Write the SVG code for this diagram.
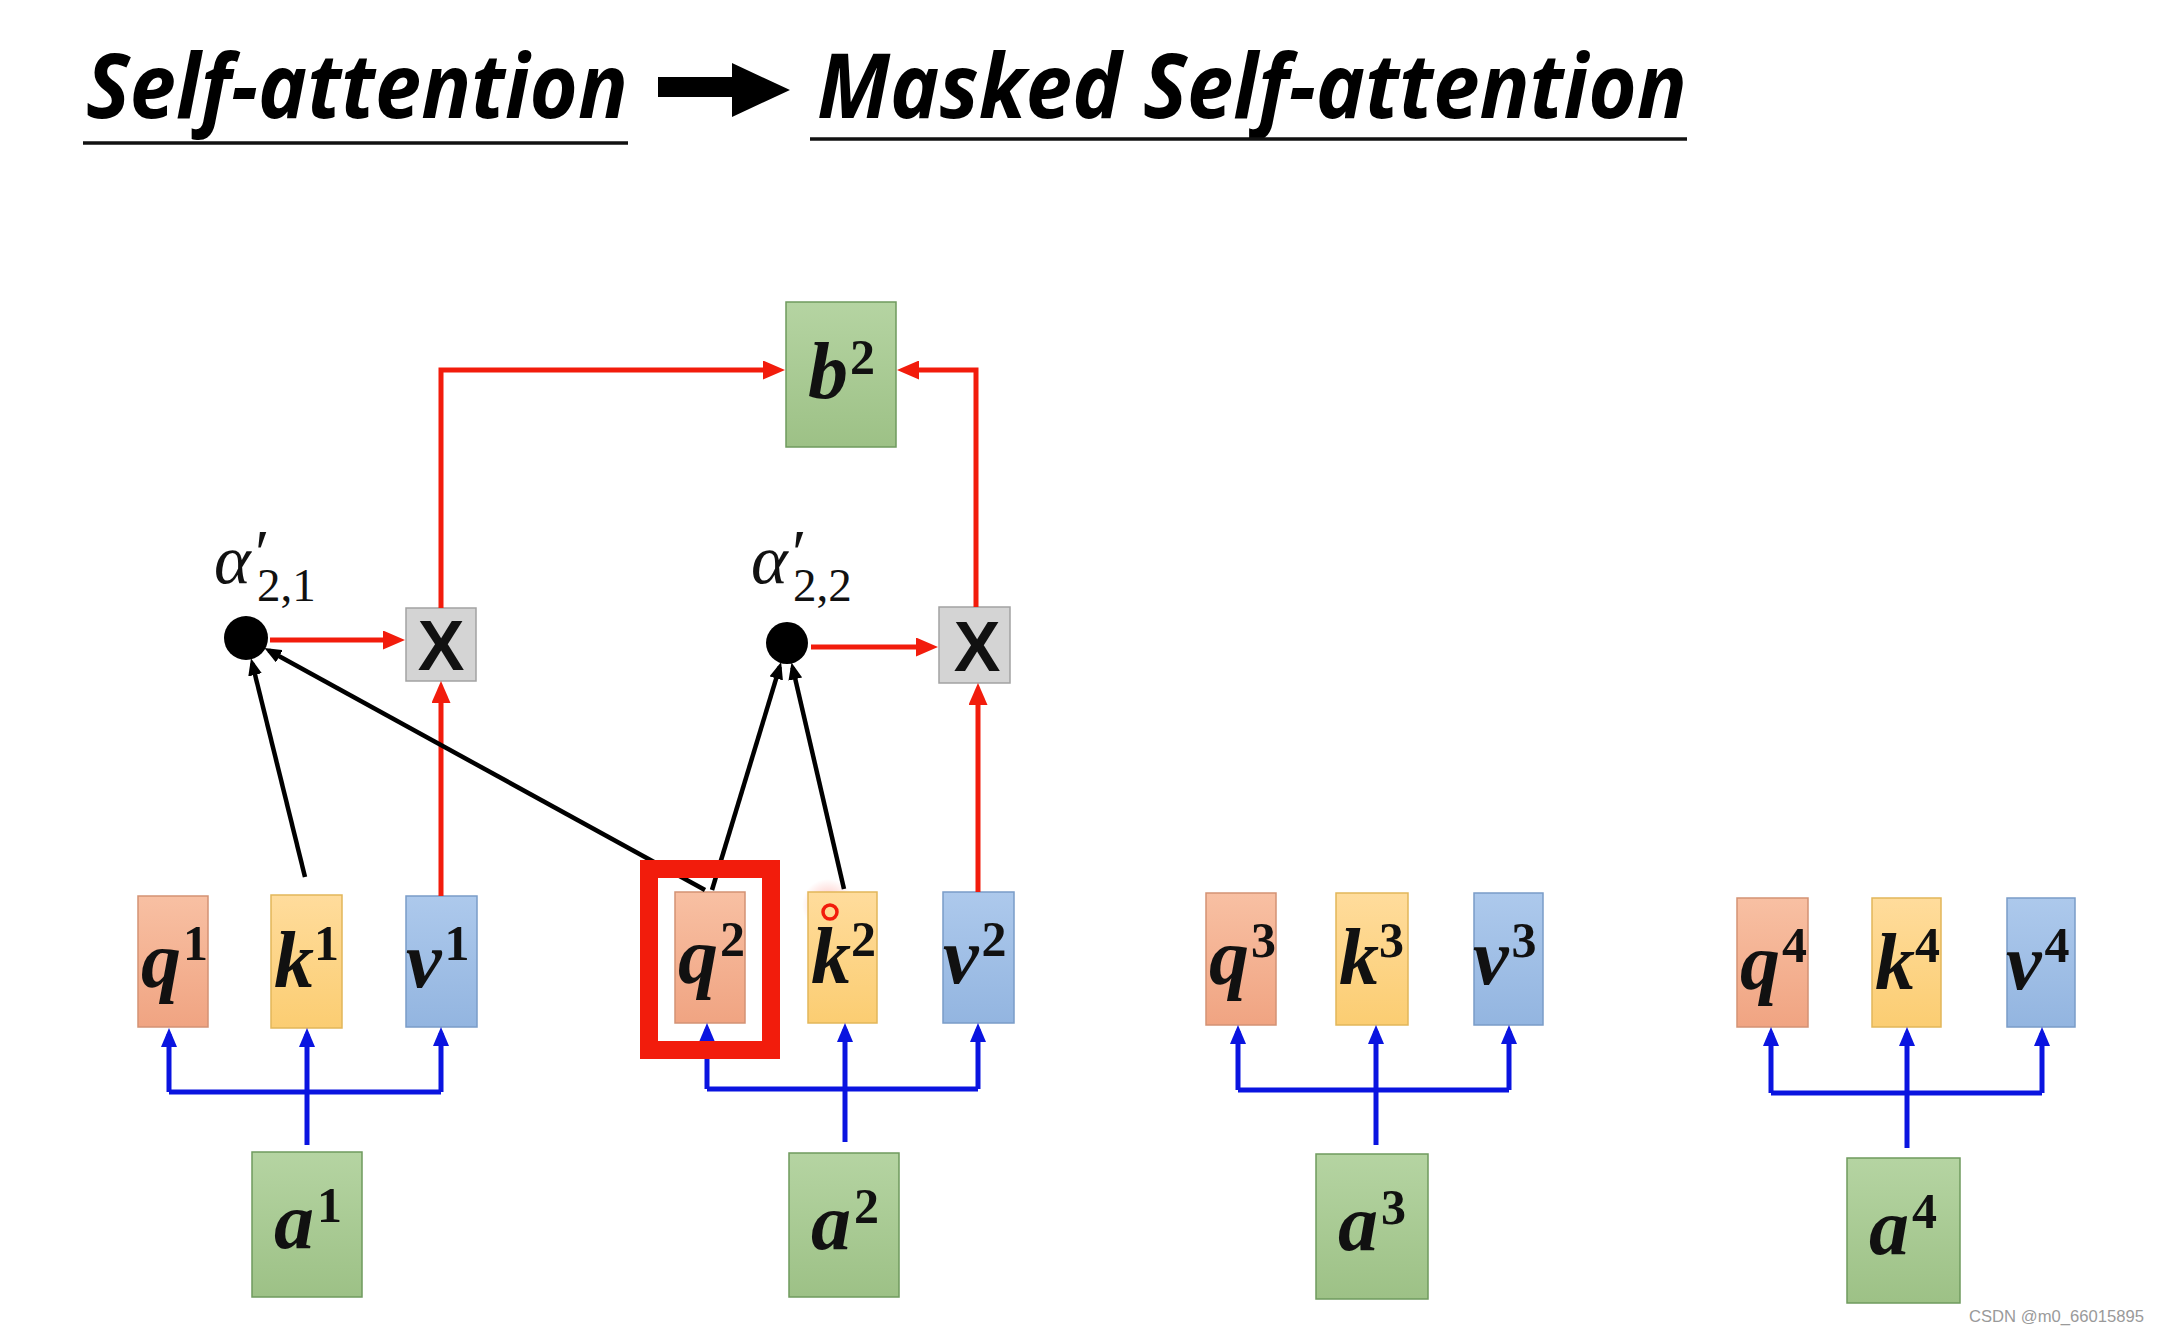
<svg xmlns="http://www.w3.org/2000/svg" width="2160" height="1335" viewBox="0 0 2160 1335">
<defs>
<linearGradient id="gq" x1="0" y1="0" x2="0" y2="1"><stop offset="0" stop-color="#f8c0a3"/><stop offset="1" stop-color="#f0a482"/></linearGradient>
<linearGradient id="gk" x1="0" y1="0" x2="0" y2="1"><stop offset="0" stop-color="#ffdc9c"/><stop offset="1" stop-color="#fbcd72"/></linearGradient>
<linearGradient id="gv" x1="0" y1="0" x2="0" y2="1"><stop offset="0" stop-color="#adc9ec"/><stop offset="1" stop-color="#93b5e0"/></linearGradient>
<linearGradient id="gg" x1="0" y1="0" x2="0" y2="1"><stop offset="0" stop-color="#b5d4a2"/><stop offset="1" stop-color="#9dc186"/></linearGradient>
<radialGradient id="glow"><stop offset="0" stop-color="#ff3b2a" stop-opacity="0.35"/><stop offset="1" stop-color="#ff3b2a" stop-opacity="0"/></radialGradient>
<marker id="ar" markerUnits="userSpaceOnUse" markerWidth="22" markerHeight="19" refX="15" refY="9.5" orient="auto"><path d="M0,0 L22,9.5 L0,19 z" fill="#f21c0c"/></marker>
<marker id="ab" markerUnits="userSpaceOnUse" markerWidth="19" markerHeight="16" refX="13" refY="8" orient="auto"><path d="M0,0 L19,8 L0,16 z" fill="#0a14e0"/></marker>
<marker id="ak" markerUnits="userSpaceOnUse" markerWidth="17" markerHeight="14" refX="12" refY="7" orient="auto"><path d="M0,0 L17,7 L0,14 z" fill="#000"/></marker>
</defs>
<style>
.title{font-family:"Open Sans","Liberation Sans",sans-serif;font-weight:bold;font-style:italic;font-size:90px;fill:#000}
.q{fill:url(#gq);stroke:#d39274;stroke-width:1.5}
.k{fill:url(#gk);stroke:#e2b65a;stroke-width:1.5}
.v{fill:url(#gv);stroke:#7a9cc8;stroke-width:1.5}
.g{fill:url(#gg);stroke:#6f9a5e;stroke-width:1.5}
.x{fill:#d4d4d4;stroke:#a2a2a2;stroke-width:1.5}
.lbl{font-family:"Liberation Serif","Times New Roman",serif;fill:#111}
.var{font-weight:bold;font-style:italic;font-size:80px}
.sup{font-weight:bold;font-size:50px}
.xs{font-family:"Liberation Sans",Arial,sans-serif;font-weight:bold;font-size:70px;fill:#111}
.al{font-family:"Liberation Serif","Times New Roman",serif;fill:#111}
.red{stroke:#f21c0c;stroke-width:5;fill:none}
.blue{stroke:#0a14e0;stroke-width:5;fill:none}
.blk{stroke:#000;stroke-width:4.5;fill:none}
</style>
<rect width="2160" height="1335" fill="#fff"/>

<g id="title">
<text class="title" x="86" y="118" textLength="542" lengthAdjust="spacingAndGlyphs">Self-attention</text>
<line x1="83" y1="143" x2="628" y2="143" stroke="#111" stroke-width="3.5"/>
<polygon points="658,77 732,77 732,63 790,90 732,117 732,97 658,97" fill="#000"/>
<text class="title" x="817" y="118" textLength="870" lengthAdjust="spacingAndGlyphs">Masked Self-attention</text>
<line x1="810" y1="139" x2="1687" y2="139" stroke="#111" stroke-width="3.5"/>
</g>

<g id="b2"><rect class="g" x="786" y="302" width="110" height="145"/><text class="lbl" x="808" y="398"><tspan class="var">b</tspan><tspan class="sup" dx="2" dy="-24">2</tspan></text></g>

<g id="mul1"><rect class="x" x="406" y="608" width="70" height="73"/><text class="xs" x="441" y="670" text-anchor="middle">X</text></g>
<g id="mul2"><rect class="x" x="939" y="607" width="71" height="76"/><text class="xs" x="977" y="671" text-anchor="middle">X</text></g>

<g id="alpha21"><circle cx="246" cy="638" r="22" fill="#000"/><text class="al"><tspan x="214" y="583" font-style="italic" font-size="70">α</tspan><tspan x="251" y="575" font-size="66" font-style="italic">′</tspan><tspan x="257" y="601" font-size="47">2,1</tspan></text></g>
<g id="alpha22"><circle cx="787" cy="643" r="21" fill="#000"/><text class="al"><tspan x="751" y="583" font-style="italic" font-size="70">α</tspan><tspan x="788" y="575" font-size="66" font-style="italic">′</tspan><tspan x="793" y="601" font-size="47">2,2</tspan></text></g>

<g id="q1"><rect class="q" x="138" y="896" width="70" height="131"/><text class="lbl" x="141" y="987"><tspan class="var">q</tspan><tspan class="sup" dx="2" dy="-27">1</tspan></text></g>
<g id="k1"><rect class="k" x="271" y="895" width="71" height="133"/><text class="lbl" x="274" y="987"><tspan class="var">k</tspan><tspan class="sup" dx="0" dy="-27">1</tspan></text></g>
<g id="v1"><rect class="v" x="406" y="896" width="71" height="131"/><text class="lbl" x="406" y="987"><tspan class="var">v</tspan><tspan class="sup" dx="3" dy="-27">1</tspan></text></g>

<g id="q2"><rect class="q" x="675" y="892" width="70" height="131"/><text class="lbl" x="678" y="983"><tspan class="var">q</tspan><tspan class="sup" dx="2" dy="-27">2</tspan></text></g>
<g id="k2"><circle cx="828" cy="905" r="26" fill="url(#glow)"/><rect class="k" x="808" y="892" width="69" height="131"/><circle cx="830" cy="912" r="7" fill="none" stroke="#f21c0c" stroke-width="3.5"/><text class="lbl" x="811" y="983"><tspan class="var">k</tspan><tspan class="sup" dx="0" dy="-27">2</tspan></text></g>
<g id="v2"><rect class="v" x="943" y="892" width="71" height="131"/><text class="lbl" x="943" y="983"><tspan class="var">v</tspan><tspan class="sup" dx="3" dy="-27">2</tspan></text></g>

<g id="q3"><rect class="q" x="1206" y="893" width="70" height="132"/><text class="lbl" x="1209" y="984"><tspan class="var">q</tspan><tspan class="sup" dx="2" dy="-27">3</tspan></text></g>
<g id="k3"><rect class="k" x="1336" y="893" width="72" height="132"/><text class="lbl" x="1339" y="984"><tspan class="var">k</tspan><tspan class="sup" dx="0" dy="-27">3</tspan></text></g>
<g id="v3"><rect class="v" x="1474" y="893" width="69" height="132"/><text class="lbl" x="1473" y="984"><tspan class="var">v</tspan><tspan class="sup" dx="3" dy="-27">3</tspan></text></g>

<g id="q4"><rect class="q" x="1737" y="898" width="71" height="129"/><text class="lbl" x="1740" y="989"><tspan class="var">q</tspan><tspan class="sup" dx="2" dy="-27">4</tspan></text></g>
<g id="k4"><rect class="k" x="1872" y="898" width="69" height="129"/><text class="lbl" x="1875" y="989"><tspan class="var">k</tspan><tspan class="sup" dx="0" dy="-27">4</tspan></text></g>
<g id="v4"><rect class="v" x="2007" y="898" width="68" height="129"/><text class="lbl" x="2006" y="989"><tspan class="var">v</tspan><tspan class="sup" dx="3" dy="-27">4</tspan></text></g>

<g id="a1"><rect class="g" x="252" y="1152" width="110" height="145"/><text class="lbl" x="274" y="1248"><tspan class="var">a</tspan><tspan class="sup" dx="3" dy="-26">1</tspan></text></g>
<g id="a2"><rect class="g" x="789" y="1153" width="110" height="144"/><text class="lbl" x="811" y="1249"><tspan class="var">a</tspan><tspan class="sup" dx="3" dy="-26">2</tspan></text></g>
<g id="a3"><rect class="g" x="1316" y="1154" width="112" height="145"/><text class="lbl" x="1338" y="1250"><tspan class="var">a</tspan><tspan class="sup" dx="3" dy="-26">3</tspan></text></g>
<g id="a4"><rect class="g" x="1847" y="1158" width="113" height="145"/><text class="lbl" x="1869" y="1254"><tspan class="var">a</tspan><tspan class="sup" dx="3" dy="-26">4</tspan></text></g>

<g id="connectors">
<path class="red" d="M441,896 V688" marker-end="url(#ar)"/>
<path class="red" d="M978,892 V690" marker-end="url(#ar)"/>
<path class="red" d="M270,640 H398" stroke-width="6" marker-end="url(#ar)"/>
<path class="red" d="M811,647 H931" stroke-width="6" marker-end="url(#ar)"/>
<path class="red" d="M441,608 V370 H778" marker-end="url(#ar)"/>
<path class="red" d="M976,607 V370 H904" marker-end="url(#ar)"/>

<path class="blk" d="M305,877 L252.2,663.2" marker-end="url(#ak)"/>
<path class="blk" d="M705,890 L268.8,650.5" stroke-width="5" marker-end="url(#ak)"/>
<path class="blk" d="M712,890 L779.7,666.9" marker-end="url(#ak)"/>
<path class="blk" d="M844,889 L792.6,667.4" marker-end="url(#ak)"/>

<path class="blue" d="M169,1092 H441"/>
<path class="blue" d="M169,1092 V1034" marker-end="url(#ab)"/>
<path class="blue" d="M307,1145 V1034" marker-end="url(#ab)"/>
<path class="blue" d="M441,1092 V1033" marker-end="url(#ab)"/>

<path class="blue" d="M707,1089 H978"/>
<path class="blue" d="M707,1089 V1029" marker-end="url(#ab)"/>
<path class="blue" d="M845,1142 V1029" marker-end="url(#ab)"/>
<path class="blue" d="M978,1089 V1029" marker-end="url(#ab)"/>

<path class="blue" d="M1238,1090 H1509"/>
<path class="blue" d="M1238,1090 V1031" marker-end="url(#ab)"/>
<path class="blue" d="M1376,1145 V1031" marker-end="url(#ab)"/>
<path class="blue" d="M1509,1090 V1031" marker-end="url(#ab)"/>

<path class="blue" d="M1771,1093 H2042"/>
<path class="blue" d="M1771,1093 V1033" marker-end="url(#ab)"/>
<path class="blue" d="M1907,1148 V1033" marker-end="url(#ab)"/>
<path class="blue" d="M2042,1093 V1033" marker-end="url(#ab)"/>
</g>

<g id="highlight"><rect x="649" y="869" width="122" height="181" fill="none" stroke="#f21c0c" stroke-width="18"/></g>

<g id="watermark"><text x="1969" y="1322" font-family="Liberation Sans,Arial,sans-serif" font-size="16" fill="#9a9a9a" textLength="175" lengthAdjust="spacingAndGlyphs">CSDN @m0_66015895</text></g>
</svg>
